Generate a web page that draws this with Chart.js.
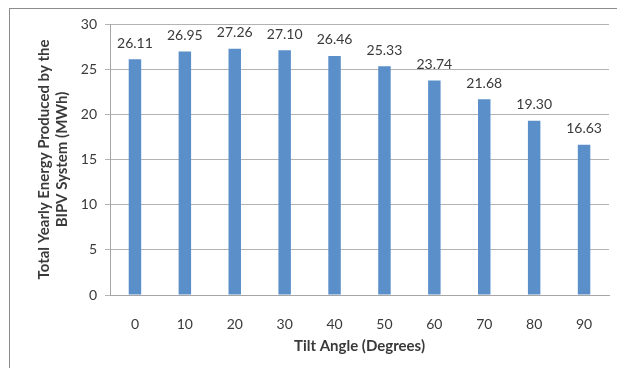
<!DOCTYPE html>
<html lang="en">
<head>
    <meta charset="UTF-8"/>
    <title>Tilt angle vs yearly energy</title>
    <script src="https://cdn.jsdelivr.net/npm/chart.js@4.4.1/dist/chart.umd.min.js"></script>
    <style>
        body { margin: 0; background: #fff; width: 617px; height: 368px; overflow: hidden; position: relative; }
        #frame { position: absolute; left: 9px; top: 8px; width: 700px; height: 500px; border: 1px solid #8c8c8c; }
        #chart { position: absolute; left: 0; top: 0; }
    </style>
</head>
<body>
<div id="frame"></div>
<canvas id="chart" width="617" height="368"></canvas>
<script>
    // tilt angle categories and yearly energy (MWh)
    const angles = ['0', '10', '20', '30', '40', '50', '60', '70', '80', '90'];
    const energy = [26.11, 26.95, 27.26, 27.10, 26.46, 25.33, 23.74, 21.68, 19.30, 16.63];
    const yTicks = [0, 5, 10, 15, 20, 25, 30];

    const textColor = '#3a3a3a';
    const fontFamily = 'Lato, "Open Sans", sans-serif';

    // value labels above each bar
    const barLabels = {
        id: 'barLabels',
        afterDatasetsDraw(chart) {
            const ctx = chart.ctx;
            const meta = chart.getDatasetMeta(0);
            ctx.save();
            ctx.font = '14px ' + fontFamily;
            ctx.fillStyle = textColor;
            ctx.textAlign = 'center';
            ctx.textBaseline = 'middle';
            meta.data.forEach((bar, i) => {
                ctx.fillText(energy[i].toFixed(2), bar.x, bar.y - 16);
            });
            ctx.restore();
        }
    };

    const ctx = document.getElementById('chart').getContext('2d');
    const chart = new Chart(ctx, {
        type: 'bar',
        data: {
            labels: angles,
            datasets: [{
                data: energy,
                backgroundColor: '#5b8fca',
                categoryPercentage: 1,
                barPercentage: 0.25
            }]
        },
        options: {
            responsive: false,
            animation: false,
            layout: { padding: { top: 24, right: 8, left: 0, bottom: 0 } },
            plugins: {
                legend: { display: false },
                tooltip: { enabled: false }
            },
            scales: {
                x: {
                    grid: { display: false },
                    border: { display: true, color: '#a6a6a6' },
                    ticks: { color: textColor, font: { family: fontFamily, size: 14 }, padding: 13 },
                    title: {
                        display: true,
                        text: 'Tilt Angle (Degrees)',
                        color: textColor,
                        font: { family: fontFamily, size: 15, weight: 'bold', lineHeight: 1.2 },
                        padding: { top: 0, bottom: 13 }
                    },
                    afterFit(scale) { scale.height = 73; }
                },
                y: {
                    min: 0,
                    max: 30,
                    afterBuildTicks(scale) { scale.ticks = yTicks.map(v => ({ value: v })); },
                    grid: { color: '#b3b3b3', tickLength: 5, drawTicks: true },
                    border: { display: true, color: '#a6a6a6' },
                    ticks: { color: textColor, font: { family: fontFamily, size: 14 }, padding: 8 },
                    title: {
                        display: true,
                        text: ['Total Yearly Energy Produced by the', 'BIPV System (MWh)'],
                        color: textColor,
                        font: { family: fontFamily, size: 15, weight: 'bold', lineHeight: 1.2 },
                        padding: { top: 35, bottom: 0 }
                    },
                    afterFit(scale) { scale.width = 110; }
                }
            }
        },
        plugins: [barLabels]
    });
</script>
</body>
</html>
